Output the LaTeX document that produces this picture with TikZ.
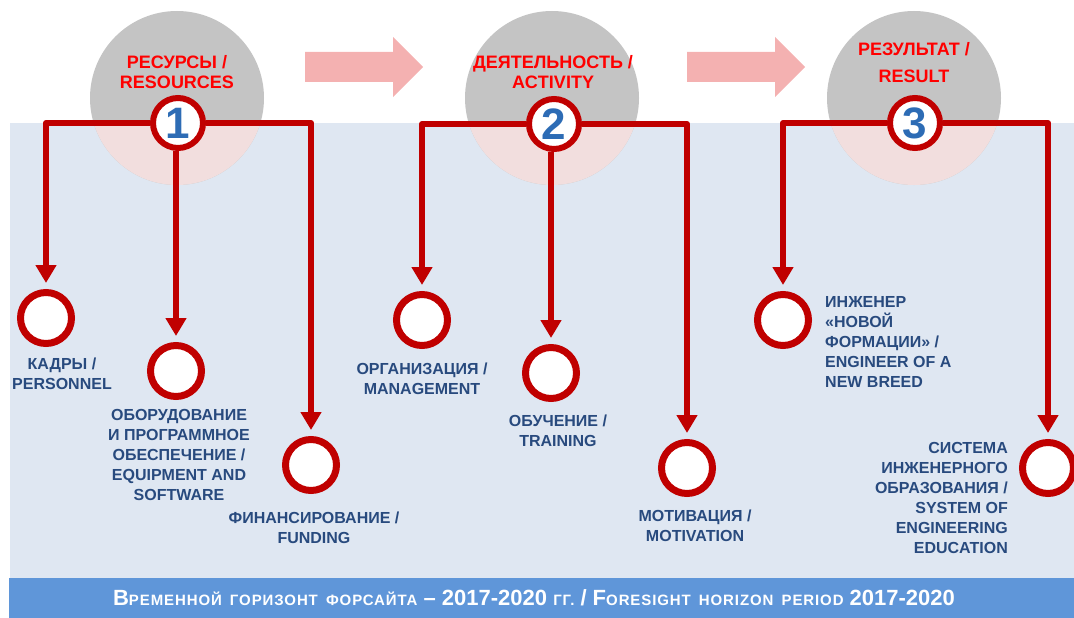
\documentclass[tikz,border=0pt]{standalone}
\usepackage{fontspec}
\setmainfont{Liberation Sans}
\newfontfamily\capsfont[LetterSpace=6,WordSpace=1.6]{Liberation Sans}
\usetikzlibrary{arrows.meta}
\definecolor{hubred}{HTML}{C00000}
\definecolor{titlered}{HTML}{FF0000}
\definecolor{ink}{HTML}{284A7E}
\definecolor{paleblue}{HTML}{DFE7F2}
\definecolor{barblue}{HTML}{5F96D9}
\definecolor{disc}{HTML}{C4C4C4}
\definecolor{discpink}{HTML}{F2DEDE}
\definecolor{flowpink}{HTML}{F4B1B1}
\definecolor{digit}{HTML}{2D6CB5}
\newcommand\lowcaps[1]{{\fontsize{15}{16}\capsfont\bfseries #1}}
\tikzset{link/.style={-{Triangle[length=18pt,width=20pt]},line width=6pt,hubred,shorten >=6pt,line join=round},
hub/.style={circle,draw=hubred,line width=6pt,fill=white,minimum size=50pt,inner sep=0pt,text=digit,font=\fontsize{44}{44}\selectfont\bfseries},
item/.style={circle,draw=hubred,line width=7pt,fill=white,minimum size=51pt,inner sep=0pt},
lab/.style={font=\fontsize{16}{20}\selectfont\bfseries,text=ink,align=center,inner sep=0pt},
ttl/.style={font=\fontsize{18}{20}\selectfont\bfseries,text=titlered,align=center,inner sep=0pt,anchor=north},
flow/.style={fill=flowpink}}
\begin{document}
\begin{tikzpicture}[x=1pt,y=-1pt]
\useasboundingbox (0,0) rectangle (1074,618);
\fill[paleblue] (10,123) rectangle (1074,578);
\foreach \cx in {177,552,914} {
  \fill[disc] (\cx,98) circle[radius=87];
  \begin{scope}
    \clip (10,123) rectangle (1074,578);
    \fill[discpink] (\cx,98) circle[radius=87];
  \end{scope}
}
\fill[flow] (305,52) -- (393,52) -- (393,37) -- (423,67) -- (393,97) -- (393,82) -- (305,82) -- cycle;
\fill[flow] (687,52) -- (775,52) -- (775,37) -- (805,67) -- (775,97) -- (775,82) -- (687,82) -- cycle;
\fill[barblue] (9,578) rectangle (1074,618);
\node[anchor=base,inner sep=0pt,text=white,font=\fontsize{22}{24}\selectfont\bfseries] (horizon) at (534,605)
  {В\lowcaps{РЕМЕННОЙ ГОРИЗОНТ ФОРСАЙТА} – 2017-2020 \lowcaps{ГГ.} / F\lowcaps{ORESIGHT HORIZON PERIOD} 2017-2020};

\node[ttl] (tres) at (177,55) {РЕСУРСЫ /\\RESOURCES};
\node[ttl] (tact) at (553,55) {ДЕЯТЕЛЬНОСТЬ /\\ACTIVITY};
\node[ttl] (tresult) at (914,42) {РЕЗУЛЬТАТ /\\[7pt]RESULT};

\node[hub] (n1) at (178,123) {1};
\node[hub] (n2) at (554,124) {2};
\node[hub] (n3) at (915,123) {3};

\node[item] (kadry) at (46,318) {};
\node[item] (obor) at (176,371) {};
\node[item] (fin) at (311,465) {};
\node[item] (org) at (422,320) {};
\node[item] (obuch) at (551,373) {};
\node[item] (motiv) at (687,468) {};
\node[item] (eng) at (783,320) {};
\node[item] (sys) at (1048,468) {};

\node[lab,anchor=north] (lkadry) at (62,358) {КАДРЫ /\\PERSONNEL};
\node[lab,anchor=north] (lobor) at (179,409) {ОБОРУДОВАНИЕ\\И ПРОГРАММНОЕ\\ОБЕСПЕЧЕНИЕ /\\EQUIPMENT AND\\SOFTWARE};
\node[lab,anchor=north] (lfin) at (314,512) {ФИНАНСИРОВАНИЕ /\\FUNDING};
\node[lab,anchor=north] (lorg) at (422,363) {ОРГАНИЗАЦИЯ /\\MANAGEMENT};
\node[lab,anchor=north] (lobuch) at (558,415) {ОБУЧЕНИЕ /\\TRAINING};
\node[lab,anchor=north] (lmotiv) at (695,510) {МОТИВАЦИЯ /\\MOTIVATION};
\node[lab,anchor=north west,align=left] (leng) at (825,296) {ИНЖЕНЕР\\«НОВОЙ\\ФОРМАЦИИ» /\\ENGINEER OF A\\NEW BREED};
\node[lab,anchor=north east,align=right] (lsys) at (1008,442) {СИСТЕМА\\ИНЖЕНЕРНОГО\\ОБРАЗОВАНИЯ /\\SYSTEM OF\\ENGINEERING\\EDUCATION};

\draw[link] (n1.west) -| (kadry.north);
\draw[link] (n1.south -| obor.north) -- (obor.north);
\draw[link] (n1.east) -| (fin.north);
\draw[link] (n2.west) -| (org.north);
\draw[link] (n2.south -| obuch.north) -- (obuch.north);
\draw[link] (n2.east) -| (motiv.north);
\draw[link] (n3.west) -| (eng.north);
\draw[link] (n3.east) -| (sys.north);
\end{tikzpicture}
\end{document}
